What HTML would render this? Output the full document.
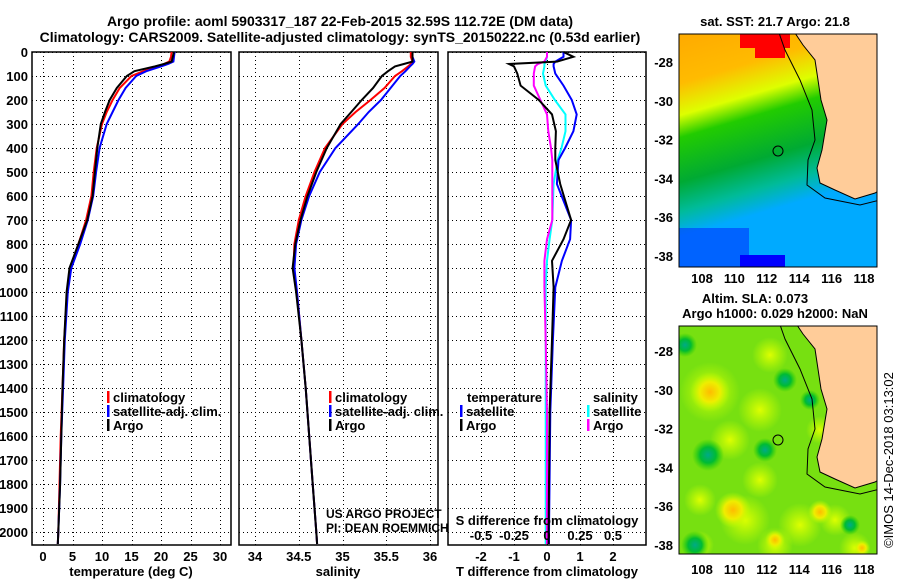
<!DOCTYPE html>
<html><head><meta charset="utf-8"><style>
html,body{margin:0;padding:0;background:#fff;}
svg{display:block;font-family:"Liberation Sans",sans-serif;}
.t{font-weight:bold;font-size:14px;}
.k{font-weight:bold;font-size:13px;}
</style></head><body>
<svg id="s" width="900" height="580" viewBox="0 0 900 580" xmlns="http://www.w3.org/2000/svg">
<defs>
<linearGradient id="sst" x1="0" y1="0" x2="0.25" y2="1">
<stop offset="0" stop-color="#ffaa00"/><stop offset="0.2" stop-color="#ffbb00"/><stop offset="0.33" stop-color="#ddff00"/><stop offset="0.42" stop-color="#22cc00"/><stop offset="0.6" stop-color="#00aa33"/><stop offset="0.72" stop-color="#00bb99"/><stop offset="0.82" stop-color="#00aaff"/><stop offset="1" stop-color="#00aaff"/></linearGradient>
<clipPath id="c1"><rect x="679" y="34" width="198" height="233"/></clipPath>
<clipPath id="c2"><rect x="679" y="326" width="198" height="228"/></clipPath>
<radialGradient id="yb"><stop offset="0" stop-color="#ffbb00"/><stop offset="0.5" stop-color="#eeee00"/><stop offset="1" stop-color="#bbff00" stop-opacity="0"/></radialGradient>
<radialGradient id="gb"><stop offset="0" stop-color="#00aa88"/><stop offset="0.5" stop-color="#00bb33"/><stop offset="1" stop-color="#22cc00" stop-opacity="0"/></radialGradient>
<radialGradient id="lb"><stop offset="0" stop-color="#ddff00"/><stop offset="1" stop-color="#ccff00" stop-opacity="0"/></radialGradient>
</defs>
<text class="t" x="340" y="26" text-anchor="middle">Argo profile: aoml 5903317_187 22-Feb-2015 32.59S 112.72E (DM data)</text>
<text class="t" x="340" y="42" text-anchor="middle">Climatology: CARS2009. Satellite-adjusted climatology: synTS_20150222.nc (0.53d earlier)</text>
<g id="maps"></g>
<text x="893" y="460" style="font-size:13px" text-anchor="middle" transform="rotate(-90 893 460)">©IMOS 14-Dec-2018 03:13:02</text>
</svg>
<script>
// ---- profile data ----
const depths = [0,20,40,50,60,80,100,150,200,250,300,400,500,600,700,800,900,1000,1200,1400,1600,1800,2000,2050];
const tempArgo = [22.2,22,21.8,20.5,19,15.5,14.2,12.5,11.3,10.5,9.8,9.2,8.8,8.4,7.5,6,4.5,4,3.6,3.3,3.1,2.9,2.6,2.5];
const tempClim = [21.8,21.7,21.4,20.5,19.5,17,15,13,11.8,10.8,10,9.1,8.6,8.2,7.3,6,4.6,4.1,3.6,3.3,3,2.8,2.6,2.5];
const tempSat = [22.3,22.2,22.1,21.2,20,17.5,15.8,14,12.8,11.8,10.8,9.6,9,8.5,7.6,6.3,4.8,4.2,3.7,3.4,3.1,2.9,2.6,2.5];
const salArgo = [35.8,35.8,35.8,35.7,35.6,35.52,35.45,35.35,35.22,35.1,34.98,34.82,34.7,34.6,34.52,34.46,34.43,34.47,34.53,34.58,34.62,34.66,34.7,34.71];
const salClim = [35.78,35.78,35.8,35.78,35.75,35.68,35.6,35.48,35.32,35.15,35.0,34.8,34.68,34.58,34.5,34.45,34.44,34.48,34.53,34.58,34.62,34.66,34.7,34.71];
const salSat = [35.8,35.8,35.82,35.8,35.77,35.72,35.66,35.55,35.44,35.3,35.18,34.92,34.74,34.62,34.53,34.47,34.45,34.48,34.53,34.58,34.62,34.66,34.7,34.71];
const diffDepths = [0,20,40,50,60,90,140,200,260,330,400,450,550,700,780,870,980,1200,1500,2000,2050];
const dTArgo = [0.5,0.8,0.3,-1.15,-1.0,-0.9,-0.8,-0.25,0.15,0.27,0.25,0.25,0.4,0.73,0.5,0.15,0.2,0.15,0.08,0.05,0.05];
const dTSat = [0.5,0.5,0.25,0.2,0.2,0.25,0.5,0.75,0.9,0.8,0.55,0.35,0.3,0.73,0.7,0.45,0.25,0.18,0.1,0.06,0.06];
const dSArgo = [0,0,-0.02,-0.07,-0.09,-0.1,-0.1,-0.05,0,0.01,0.03,0.04,0.04,0.04,0,-0.02,-0.02,-0.01,0,0,0];
const dSSat = [0,0,-0.01,-0.02,-0.02,-0.03,-0.01,0.06,0.14,0.14,0.11,0.08,0.05,0.04,0.02,0,-0.01,-0.01,-0.01,-0.01,-0.01];
const depthTicks = [0,100,200,300,400,500,600,700,800,900,1000,1100,1200,1300,1400,1500,1600,1700,1800,1900,2000];
const tTicks = [0,5,10,15,20,25,30];
const sTicks = [34,34.5,35,35.5,36];
const dTTicks = [-2,-1,0,1,2];
const dSTicks = [-0.5,-0.25,0,0.25,0.5];
const dSTickLabels = ['-0.5','-0.25','0','0.25','0.5'];

const NS='http://www.w3.org/2000/svg';
const svg=document.getElementById('s');
function mk(tag,attrs,parent,text){const e=document.createElementNS(NS,tag);for(const k in attrs)e.setAttribute(k,attrs[k]);if(text!==undefined)e.textContent=text;(parent||svg).appendChild(e);return e;}
const TOP=52,BOT=545;
const yD=d=>TOP+d*0.24;
const xT=v=>43+v*5.9;
const xS=v=>255+(v-34)*87.5;
const xDT=v=>547+v*33;
const xDS=v=>547+v*132;
const px=v=>Math.round(v)+0.5;

function panel(name,x0,x1,vticks,xf,labels,ylabels){
  const g=mk('g',{});
  
  
  depthTicks.forEach(d=>{const l=mk('line',{x1:x0,x2:x1,y1:px(yD(d)),y2:px(yD(d)),stroke:'#000','stroke-width':1,'stroke-dasharray':'1,3'},g);
    
    });
  vticks.forEach(v=>{const l=mk('line',{x1:px(xf(v)),x2:px(xf(v)),y1:TOP,y2:BOT,stroke:'#000','stroke-width':1,'stroke-dasharray':'1,3'},g);
    
    });
  const r=mk('rect',{x:x0,y:TOP,width:x1-x0,height:BOT-TOP,fill:'none',stroke:'#000','stroke-width':1.5},g);
  
  
  if(labels){vticks.forEach(v=>{const t=mk('text',{x:xf(v),y:561,'text-anchor':'middle',class:'k'},g,String(v));
    
    });}
  if(ylabels){depthTicks.forEach(d=>{const t=mk('text',{x:28,y:yD(d)+5,'text-anchor':'end',class:'k'},g,String(d));
    
    });}
  return g;
}
function line(g,name,ds,vals,xf,col){
  const pts=ds.map((d,i)=>xf(vals[i]).toFixed(1)+','+yD(d).toFixed(1)).join(' ');
  const p=mk('polyline',{points:pts,fill:'none',stroke:col,'stroke-width':2},g);
  
  
}
function txt(x,y,s,cls,name,extra){const t=mk('text',Object.assign({x:x,y:y,class:cls||'k'},extra||{}),svg,s);
  
  return t;}
function leg(x,y,col,s,name){const b=mk('rect',{x:x,y:y-11,width:2.5,height:12,fill:col});
  
  
  txt(x+6,y,s,'k',name);}

// panel 1
const g1=panel('temperature-panel',32,231,tTicks,xT,true,true);
line(g1,'temp-climatology-line',depths,tempClim,xT,'#ff0000');
line(g1,'temp-satellite-line',depths,tempSat,xT,'#0000ff');
line(g1,'temp-argo-line',depths,tempArgo,xT,'#000000');
txt(131,576,'temperature (deg C)','k','x-axis-title-temperature',{'text-anchor':'middle'});
leg(107,402,'#ff0000','climatology','legend-climatology');
leg(107,416,'#0000ff','satellite-adj. clim.','legend-satellite');
leg(107,430,'#000000','Argo','legend-argo');

// panel 2
const g2=panel('salinity-panel',239,438,sTicks,xS,true,false);
line(g2,'sal-climatology-line',depths,salClim,xS,'#ff0000');
line(g2,'sal-satellite-line',depths,salSat,xS,'#0000ff');
line(g2,'sal-argo-line',depths,salArgo,xS,'#000000');
txt(338,576,'salinity','k','x-axis-title-salinity',{'text-anchor':'middle'});
leg(329,402,'#ff0000','climatology','legend-climatology-2');
leg(329,416,'#0000ff','satellite-adj. clim.','legend-satellite-2');
leg(329,430,'#000000','Argo','legend-argo-2');
txt(326,518,'US ARGO PROJECT','', 'us-argo-credit',{style:'font-size:12px'});
txt(326,532,'PI: DEAN ROEMMICH','', 'pi-credit',{style:'font-size:12px'});

// panel 3
const g3=panel('difference-panel',448,646,dTTicks,xDT,true,false);
line(g3,'dS-satellite-line',diffDepths,dSSat,xDS,'#00ffff');
line(g3,'dS-argo-line',diffDepths,dSArgo,xDS,'#ff00ff');
line(g3,'dT-satellite-line',diffDepths,dTSat,xDT,'#0000ff');
line(g3,'dT-argo-line',diffDepths,dTArgo,xDT,'#000000');
dSTicks.forEach((v,i)=>{const t=mk('text',{x:xDS(v),y:540,'text-anchor':'middle',class:'k'},svg,dSTickLabels[i]);
  
  });
txt(547,525,'S difference from climatology','k','s-diff-axis-title',{'text-anchor':'middle'});
txt(547,576,'T difference from climatology','k','x-axis-title-tdiff',{'text-anchor':'middle'});
txt(467,402,'temperature','k','legend-temperature-header');
txt(593,402,'salinity','k','legend-salinity-header');
leg(460,416,'#0000ff','satellite','legend-t-satellite');
leg(460,430,'#000000','Argo','legend-t-argo');
leg(587,416,'#00ffff','satellite','legend-s-satellite');
leg(587,430,'#ff00ff','Argo','legend-s-argo');

// ---- maps ----
const maps=document.getElementById('maps');
const lonTicks=[108,110,112,114,116,118];
const latTicks=[-28,-30,-32,-34,-36,-38];
const xLon=v=>702+(v-108)*16.2;
function land(g,dy){
  const pts=[[793,30],[803,45],[815,60],[821,100],[827,120],[822,150],[817,168],[820,183],[835,190],[855,199],[875,193],[880,190],[880,30]];
  const p=mk('polygon',{points:pts.map(q=>q[0]+','+(q[1]+dy)).join(' '),fill:'#ffcc99',stroke:'#000','stroke-width':1},g);
  
  
  const c=mk('polyline',{points:[[778,30],[785,50],[800,80],[812,110],[815,140],[808,160],[807,185],[825,198],[860,205],[880,200]].map(q=>q[0]+','+(q[1]+dy)).join(' '),fill:'none',stroke:'#000','stroke-width':1},g);
  
  
}
function mapFrame(name,y0,h,yLat,lonY){
  const r=mk('rect',{x:679,y:y0,width:198,height:h,fill:'none',stroke:'#000','stroke-width':1},maps);
  
  
  latTicks.forEach(v=>{const t=mk('text',{x:673,y:yLat(v)+5,'text-anchor':'end',class:'k'},maps,String(v));
    
    });
  lonTicks.forEach(v=>{const t=mk('text',{x:xLon(v),y:lonY,'text-anchor':'middle',class:'k'},maps,String(v));
    
    });
}
// SST map
const m1=mk('g',{'clip-path':'url(#c1)'},maps);


mk('rect',{x:679,y:34,width:198,height:233,fill:'url(#sst)'},m1);
mk('rect',{x:740,y:34,width:50,height:14,fill:'#ff0000'},m1);
mk('rect',{x:755,y:46,width:30,height:12,fill:'#ff0000'},m1);
mk('rect',{x:679,y:228,width:70,height:39,fill:'#0033ff',opacity:0.6},m1);
mk('rect',{x:740,y:255,width:45,height:12,fill:'#0000ff'},m1);
land(m1,0);
const c1=mk('circle',{cx:778,cy:151,r:5,fill:'none',stroke:'#000','stroke-width':1},m1);


mapFrame('sst-map',34,233,v=>62+(v+28)*-19.4,283);
txt(775,26,'sat. SST: 21.7 Argo: 21.8','k','sst-map-title',{'text-anchor':'middle'});
// SLA map
const m2=mk('g',{'clip-path':'url(#c2)'},maps);


mk('rect',{x:679,y:326,width:198,height:228,fill:'#77e011'},m2);
[[710,392,30],[760,410,22],[730,440,20],[800,525,22],[745,520,25],[775,545,18],[835,520,16],[855,548,16],[770,355,18],[820,430,14],[700,545,14],[760,480,18],[700,500,16]].forEach(c=>mk('circle',{cx:c[0],cy:c[1],r:c[2],fill:'url(#lb)'},m2));
[[710,392,20],[733,510,18],[775,540,10],[820,512,12],[862,548,8]].forEach(c=>mk('circle',{cx:c[0],cy:c[1],r:c[2],fill:'url(#yb)'},m2));
[[708,455,16],[695,545,14],[685,345,12],[785,380,12],[765,450,12],[850,525,10],[810,400,10]].forEach(c=>mk('circle',{cx:c[0],cy:c[1],r:c[2],fill:'url(#gb)'},m2));
land(m2,289);
const c2=mk('circle',{cx:778,cy:440,r:5,fill:'none',stroke:'#000','stroke-width':1},m2);


mapFrame('sla-map',326,228,v=>351+(v+28)*-19.4,574);
txt(755,303,'Altim. SLA: 0.073','k','sla-map-title',{'text-anchor':'middle'});
txt(775,318,'Argo h1000: 0.029 h2000: NaN','k','sla-map-subtitle',{'text-anchor':'middle'});
</script>
</body></html>
